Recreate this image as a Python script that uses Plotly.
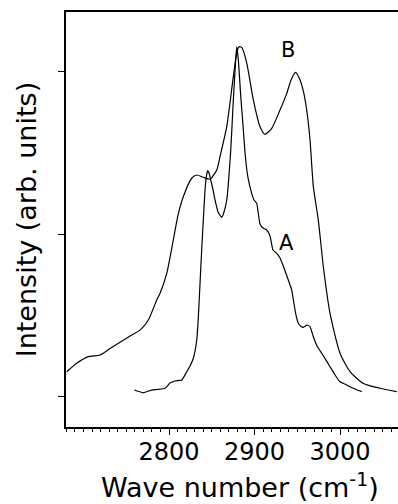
import plotly.graph_objects as go

# Spectrum B (broad)
b_x = [2680.4, 2692.0, 2705.6, 2719.3, 2731.0, 2756.4, 2766.1, 2775.8, 2785.6, 2789.5,
       2797.3, 2805.0, 2810.5, 2816.7, 2826.5, 2832.4, 2840.1, 2848.0, 2855.8, 2859.6,
       2867.5, 2875.2, 2879.9, 2882.5, 2885.4, 2890.9, 2898.6, 2906.4, 2912.3, 2920.1,
       2929.8, 2937.7, 2942.7, 2948.0, 2953.2, 2957.3, 2961.0, 2964.9, 2968.8, 2974.6,
       2980.5, 2988.3, 3000.0, 3011.7, 3027.3, 3046.8, 3066.3]
b_y = [0.150, 0.202, 0.243, 0.253, 0.294, 0.377, 0.407, 0.469, 0.593, 0.634,
       0.757, 0.963, 1.117, 1.230, 1.344, 1.364, 1.350, 1.338, 1.395, 1.477,
       1.662, 1.971, 2.136, 2.156, 2.148, 2.054, 1.827, 1.662, 1.615, 1.652,
       1.765, 1.868, 1.951, 1.997, 1.951, 1.877, 1.765, 1.580, 1.292, 1.086,
       0.798, 0.510, 0.264, 0.150, 0.078, 0.048, 0.027]

# Spectrum A (narrow)
a_x = [2759.4, 2769.9, 2779.8, 2787.1, 2795.3, 2801.2, 2807.0, 2814.9, 2820.7, 2824.6,
       2828.4, 2832.4, 2834.3, 2836.3, 2838.2, 2840.1, 2842.1, 2843.9, 2845.3, 2846.8,
       2848.8, 2851.5, 2853.8, 2857.3, 2861.6, 2864.3, 2867.5, 2872.2, 2875.2, 2877.8,
       2879.2, 2881.1, 2883.9, 2886.5, 2888.9, 2892.4, 2896.7, 2899.4, 2902.6, 2906.4,
       2910.3, 2914.3, 2918.1, 2921.6, 2926.0, 2929.8, 2934.5, 2939.5, 2943.5, 2945.4,
       2948.5, 2951.2, 2954.4, 2957.1, 2961.4, 2964.9, 2968.8, 2973.1, 2978.6, 2983.6,
       2988.3, 2994.2, 3000.0, 3005.8, 3011.7, 3018.7, 3025.4]
a_y = [0.037, 0.020, 0.037, 0.041, 0.048, 0.080, 0.093, 0.099, 0.150, 0.185,
       0.233, 0.346, 0.490, 0.700, 0.901, 1.086, 1.272, 1.364, 1.391, 1.377,
       1.333, 1.272, 1.210, 1.136, 1.103, 1.136, 1.210, 1.519, 1.827, 2.062,
       2.156, 2.074, 1.848, 1.673, 1.500, 1.346, 1.251, 1.210, 1.189, 1.062,
       1.035, 1.025, 0.988, 0.901, 0.881, 0.852, 0.790, 0.716, 0.654, 0.593,
       0.500, 0.449, 0.429, 0.424, 0.438, 0.428, 0.366, 0.309, 0.264, 0.222,
       0.181, 0.130, 0.088, 0.074, 0.057, 0.040, 0.027]

x_ticks = [2800, 2900, 3000]
x_tick_labels = ["2800", "2900", "3000"]
y_ticks = [0, 1, 2]

labels = ["A", "B"]
label_x = [2937.7, 2939.5]
label_y = [0.944, 2.136]

FONT = "DejaVu Sans"

fig = go.Figure()
fig.add_trace(go.Scatter(x=b_x, y=b_y, mode="lines",
                         line=dict(color="black", width=1.2, shape="spline", smoothing=0.6),
                         showlegend=False, hoverinfo="skip"))
fig.add_trace(go.Scatter(x=a_x, y=a_y, mode="lines",
                         line=dict(color="black", width=1.2, shape="spline", smoothing=0.4),
                         showlegend=False, hoverinfo="skip"))

for t, xx, yy in zip(labels, label_x, label_y):
    fig.add_annotation(x=xx, y=yy, text=t, showarrow=False,
                       font=dict(family=FONT, size=21, color="black"))

fig.add_annotation(xref="paper", yref="paper", x=0.525, y=-0.140, yanchor="middle",
                   text="Wave number (cm<sup>-1</sup>)", showarrow=False,
                   font=dict(family=FONT, size=27, color="black"))
fig.add_annotation(xref="paper", yref="paper", x=-0.118, y=0.5, xanchor="center",
                   text="Intensity (arb. units)", showarrow=False, textangle=-90,
                   font=dict(family=FONT, size=27, color="black"))

fig.update_layout(
    width=398, height=504,
    margin=dict(l=66, r=0, t=12, b=77),
    paper_bgcolor="white", plot_bgcolor="white",
    font=dict(family=FONT, color="black"),
    xaxis=dict(range=[2679.5, 3067.8], showgrid=False, zeroline=False,
               showline=True, linecolor="black", linewidth=1.5, mirror=True,
               tickmode="array", tickvals=x_ticks, ticktext=x_tick_labels,
               ticks="outside", ticklen=6, tickwidth=1.2, tickcolor="black",
               ticklabelstandoff=-4,
               tickfont=dict(family=FONT, size=24, color="black"),
               minor=dict(dtick=10, tick0=2680, ticks="outside", ticklen=3,
                          tickwidth=1, tickcolor="black", showgrid=False)),
    yaxis=dict(range=[-0.191, 2.370], showgrid=False, zeroline=False,
               showline=True, linecolor="black", linewidth=1.5, mirror=False,
               tickmode="array", tickvals=y_ticks, showticklabels=False,
               ticks="outside", ticklen=6, tickwidth=1.2, tickcolor="black"),
)

fig.write_html("out.html")
